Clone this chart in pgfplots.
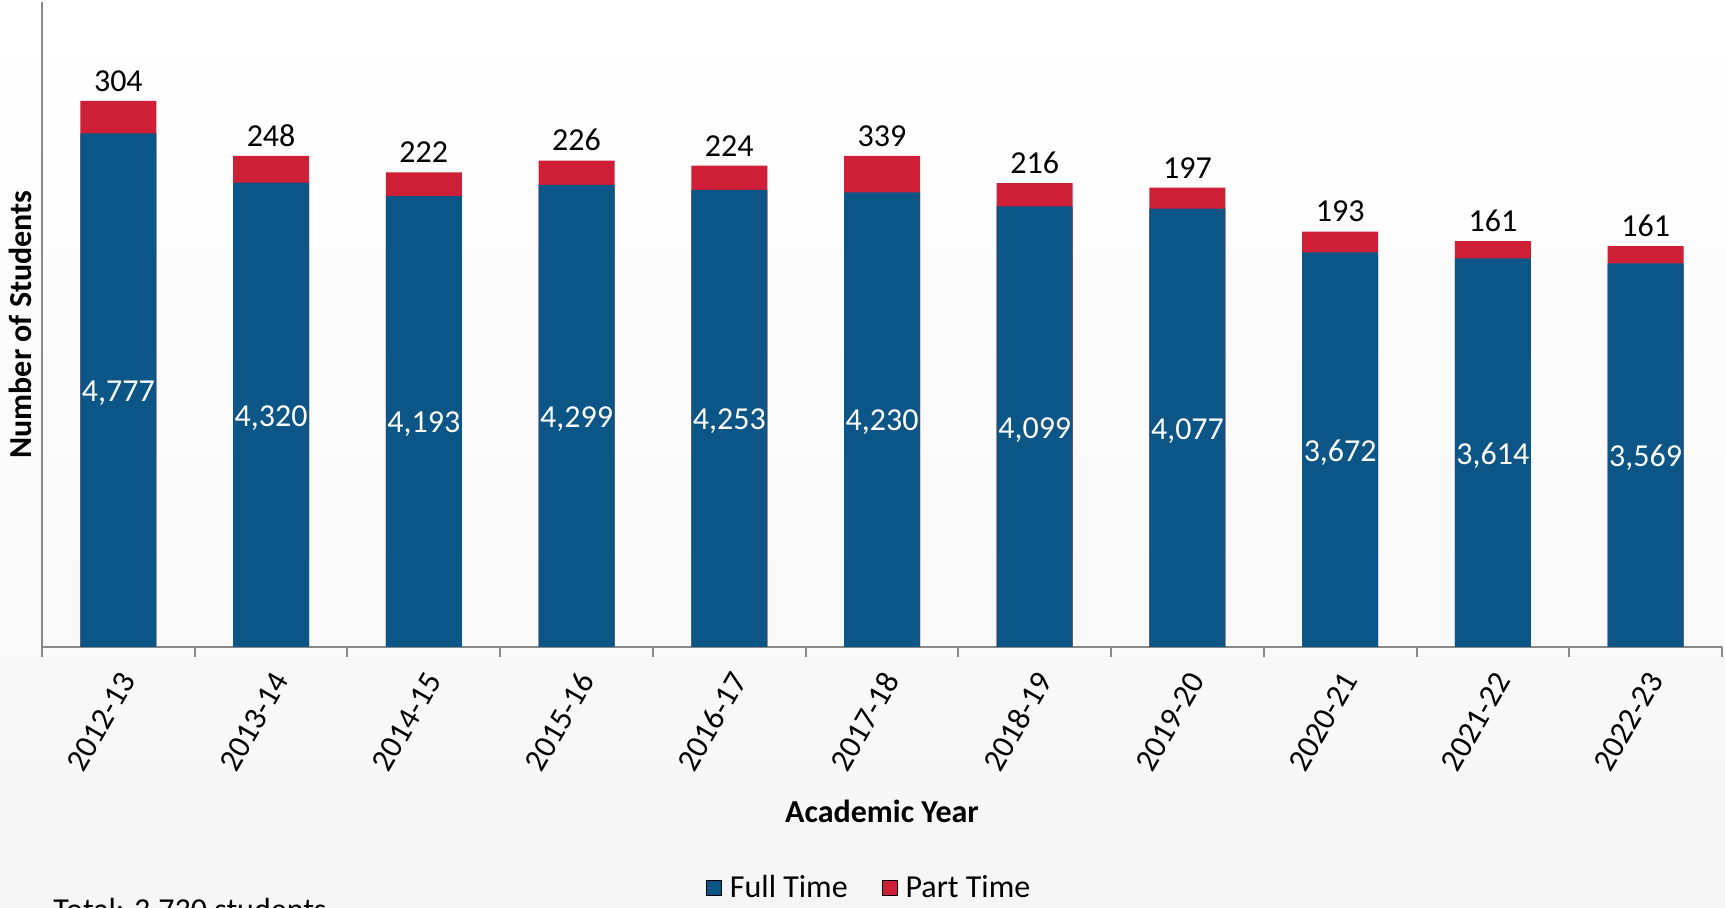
\documentclass[border=0pt]{standalone}
\usepackage{pgfplots}
\pgfplotsset{compat=1.18}
\usepackage{fontspec}
\setmainfont{Carlito}
\definecolor{ftblue}{RGB}{11,86,135}
\definecolor{ptred}{RGB}{206,31,55}
\definecolor{axgray}{RGB}{137,137,137}
\newcommand\fs{\fontsize{16}{19}\selectfont}
\begin{document}
\begin{tikzpicture}
\shade[top color=white, bottom color={rgb,255:red,246;green,246;blue,246}] (-21pt,-130.5pt) rectangle (841.5pt,323.5pt);
\begin{axis}[
  at={(0,0)}, anchor=south west,
  width=840pt, height=322.5pt, scale only axis,
  xmin=-0.5, xmax=10.5, ymin=0, ymax=6000,
  clip=false,
  axis lines=left,
  axis line style={-, draw=axgray, line width=1pt},
  ytick=\empty,
  xtick={0,...,10},
  xticklabels={2012-13,2013-14,2014-15,2015-16,2016-17,2017-18,2018-19,2019-20,2020-21,2021-22,2022-23},
  major tick length=0pt,
  minor xtick={-0.5,0.5,...,10.5},
  minor tick length=5pt,
  tick align=outside,
  minor tick style={draw=axgray, line width=1pt},
  xticklabel style={font=\fs, rotate=60, anchor=east, xshift=-6.4pt, yshift=-11.3pt},
  xlabel={Academic Year},
  xlabel style={font=\fs\bfseries, at={([yshift=-82pt]axis description cs:0.5,0)}, anchor=center},
  ylabel={Number of Students},
  ylabel style={font=\fs\bfseries, at={([xshift=-11pt]axis description cs:0,0.5)}, anchor=center},
  legend style={at={(0.493,-0.374)}, anchor=center, draw=none, fill=none, font=\fs,
    legend columns=2, /tikz/every even column/.append style={column sep=15pt},
    /tikz/every odd column/.append style={column sep=2pt}},
  legend image code/.code={\fill[#1] (0pt,-3.75pt) rectangle (7.5pt,3.75pt);},
]
% totals (part time on top)
\addplot[ybar, bar width=38pt, bar shift=0pt, fill=ptred, draw=none, forget plot,
  point meta=explicit symbolic, nodes near coords, nodes near coords style={font=\fs, text=black, anchor=south, inner sep=2.5pt, yshift=2pt}]
  coordinates {(0,5081)[304] (1,4568)[248] (2,4415)[222] (3,4525)[226] (4,4477)[224] (5,4569)[339]
               (6,4315)[216] (7,4274)[197] (8,3865)[193] (9,3775)[161] (10,3730)[161]};
% full time
\addplot[ybar, bar width=38pt, bar shift=0pt, fill=ftblue, draw=none, forget plot]
  coordinates {(0,4777) (1,4320) (2,4193) (3,4299) (4,4253) (5,4230)
               (6,4099) (7,4077) (8,3672) (9,3614) (10,3569)};
% full time labels
\addplot[draw=none, mark=none, forget plot,
  point meta=explicit symbolic, nodes near coords, nodes near coords style={font=\fs, text=white, anchor=center, yshift=-1.5pt}]
  coordinates {(0,2388.5)[{4,777}] (1,2160)[{4,320}] (2,2096.5)[{4,193}] (3,2149.5)[{4,299}] (4,2126.5)[{4,253}] (5,2115)[{4,230}]
               (6,2049.5)[{4,099}] (7,2038.5)[{4,077}] (8,1836)[{3,672}] (9,1807)[{3,614}] (10,1784.5)[{3,569}]};
\addlegendimage{fill=ftblue}
\addlegendentry{Full Time}
\addlegendimage{fill=ptred}
\addlegendentry{Part Time}
\end{axis}
\node[anchor=base west, inner sep=0pt, font=\fs] at (5.5pt,-136.8pt) {Total: 3,730 students};
\pgfresetboundingbox
\path[use as bounding box] (-21pt,-130.5pt) rectangle (841.5pt,323.5pt);
\end{tikzpicture}
\end{document}
